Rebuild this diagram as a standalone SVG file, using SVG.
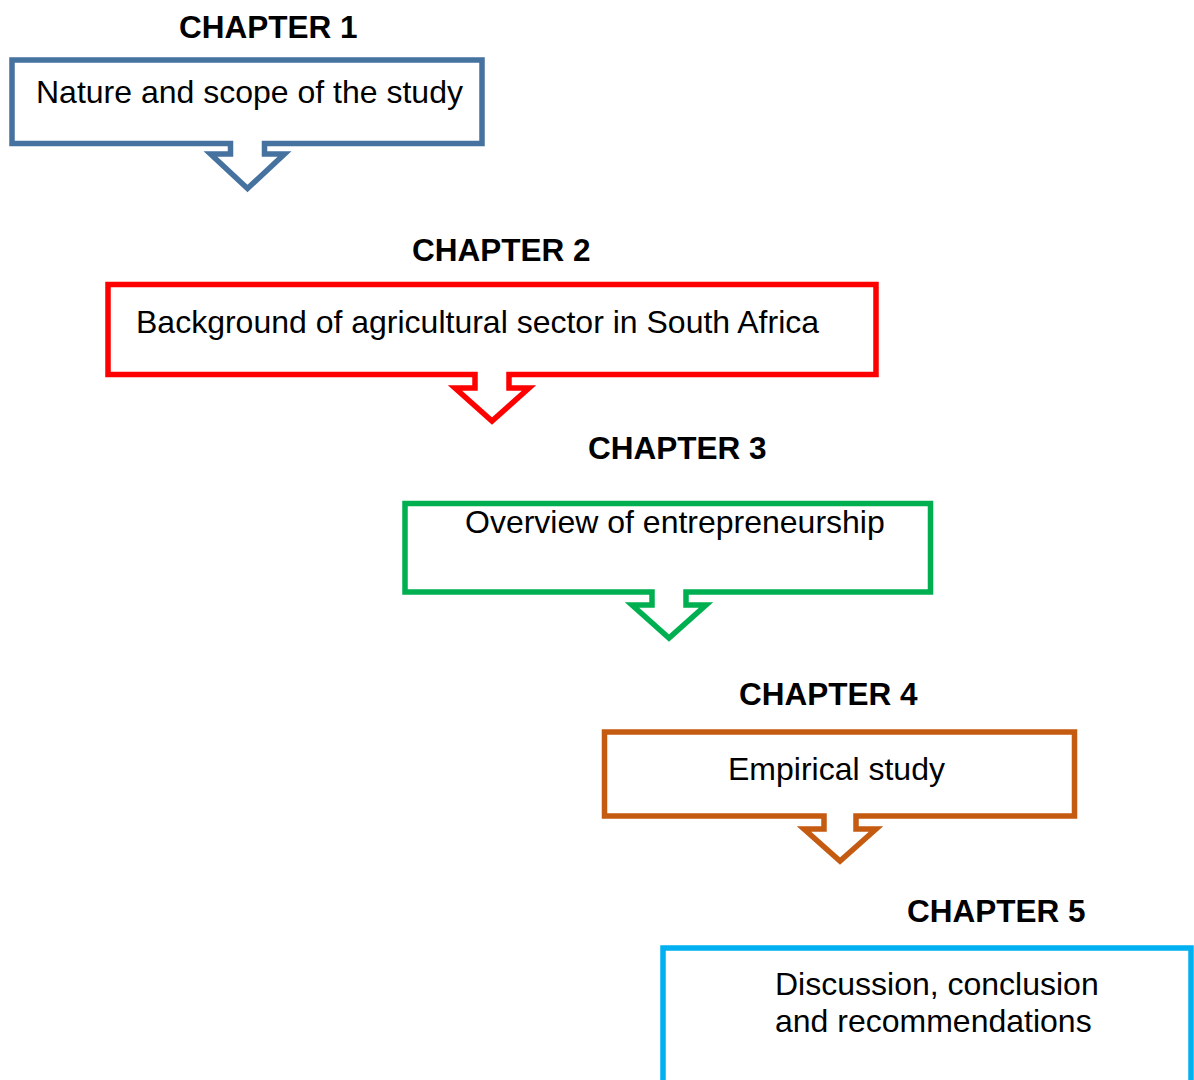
<svg xmlns="http://www.w3.org/2000/svg" width="1194" height="1080" viewBox="0 0 1194 1080">
<style>
.box{fill:#fff;stroke-width:5.5;stroke-linejoin:miter;stroke-miterlimit:10}
.h{font-family:"Liberation Sans",Arial,sans-serif;font-weight:bold;font-size:31.5px;fill:#000}
.t{font-family:"Liberation Sans",Arial,sans-serif;font-size:32px;fill:#000}
</style>
<rect width="1194" height="1080" fill="#fff"/>
<g id="connectors"/>
<g id="chapter1">
<text class="h" x="179" y="38">CHAPTER 1</text>
<path class="box" stroke="#4672A0" d="M12,60 H482 V143.5 H264.5 V154 H284.5 L247.5,188.5 L210.5,154 H230.5 V143.5 H12 Z"/>
<text class="t" x="36" y="103">Nature and scope of the study</text>
</g>
<g id="chapter2">
<text class="h" x="412" y="261">CHAPTER 2</text>
<path class="box" stroke="#FF0000" d="M108,284.5 H876 V374.5 H509 V388 H529 L492,421 L455,388 H475 V374.5 H108 Z"/>
<text class="t" x="136" y="333">Background of agricultural sector in South Africa</text>
</g>
<g id="chapter3">
<text class="h" x="588" y="459">CHAPTER 3</text>
<path class="box" stroke="#00B050" d="M405,503.5 H930.5 V592 H686 V605 H706 L669,638 L632,605 H652 V592 H405 Z"/>
<text class="t" x="465" y="533">Overview of entrepreneurship</text>
</g>
<g id="chapter4">
<text class="h" x="739" y="705">CHAPTER 4</text>
<path class="box" stroke="#C55A11" d="M604.5,732 H1074.5 V816 H856 V829 H876 L840,861 L804,829 H824 V816 H604.5 Z"/>
<text class="t" x="728" y="780">Empirical study</text>
</g>
<g id="chapter5">
<text class="h" x="907" y="922">CHAPTER 5</text>
<rect class="box" stroke="#00B0F0" x="663" y="948" width="528" height="160"/>
<text class="t" x="775" y="995">Discussion, conclusion</text>
<text class="t" x="775" y="1032">and recommendations</text>
</g>
</svg>
